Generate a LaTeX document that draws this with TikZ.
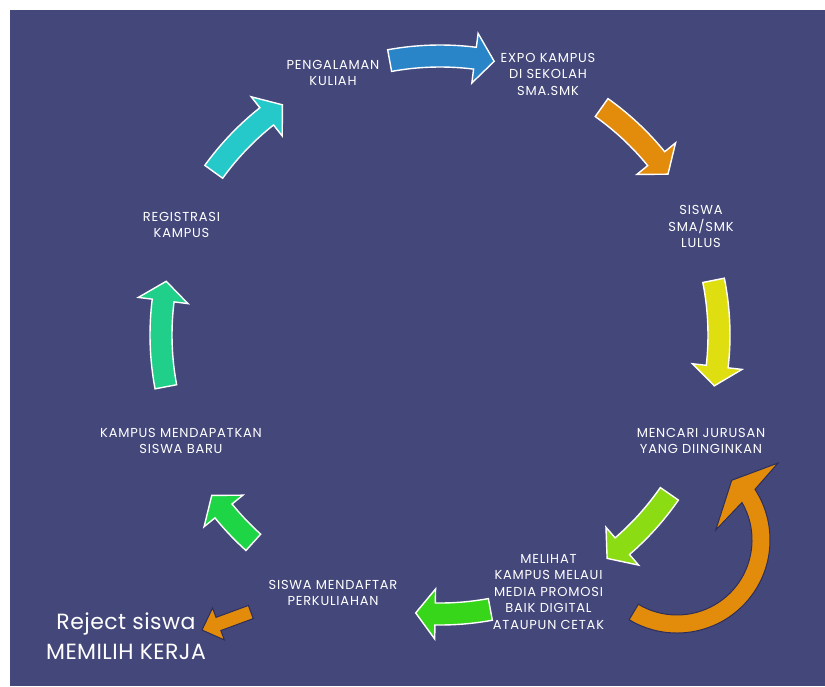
\documentclass[tikz,border=0pt]{standalone}
\usepackage{fontspec}
\setmainfont{Poppins}[LetterSpace=6]
\usepackage{tikz}
\usetikzlibrary{calc}

\definecolor{bgnavy}{HTML}{44477A}
\definecolor{rimnavy}{HTML}{2C2E5C}
\definecolor{arrcyan}{HTML}{26C9C9}
\definecolor{arrblue}{HTML}{2A84C8}
\definecolor{arrorange}{HTML}{E38C0B}
\definecolor{arryellow}{HTML}{DFDE10}
\definecolor{arrlime}{HTML}{8CDC14}
\definecolor{arrgreen}{HTML}{38D61B}
\definecolor{arrmint}{HTML}{1ED645}
\definecolor{arrteal}{HTML}{20CF8A}

% curved block arrow on the cycle circle: colour, tail angle, tip angle
\newcommand{\cycarrow}[3]{%
  \pgfmathsetmacro{\hb}{#3+4}%
  \filldraw[cyc, fill=#1] (#2:290pt) arc[start angle=#2, end angle=\hb, radius=290pt]
    -- (\hb:304pt) -- (#3:279pt) -- (\hb:254pt) -- (\hb:268pt)
    arc[start angle=\hb, end angle=#2, radius=268pt] -- cycle;}

\begin{document}
\begin{tikzpicture}[x=1pt, y=1pt,
  every node/.style={font=\fontsize{13}{16.5}\selectfont, text=white, align=center, inner sep=0pt},
  big/.style={font=\fontsize{22}{30}\selectfont\addfontfeature{LetterSpace=2}},
  cyc/.style={draw=white, line width=1.4pt},
  rej/.style={fill=arrorange, draw=rimnavy, line width=1pt}]
  \fill[white] (0,0) rectangle (825,686);
  \fill[bgnavy] (10,0) rectangle (825,676);
  \useasboundingbox (0,0) rectangle (825,686);
  \coordinate (c) at (440,351);

  \node (pengalaman) at (333,613) {PENGALAMAN\\KULIAH};
  \node (expo) at (548,612) {EXPO KAMPUS\\DI SEKOLAH\\SMA.SMK};
  \node (lulus) at (701,459.5) {SISWA\\SMA/SMK\\LULUS};
  \node (jurusan) at (701,245) {MENCARI JURUSAN\\YANG DIINGINKAN};
  \node (melihat) at (548.5,94) {MELIHAT\\KAMPUS MELAUI\\MEDIA PROMOSI\\BAIK DIGITAL\\ATAUPUN CETAK};
  \node (mendaftar) at (333,93) {SISWA MENDAFTAR\\PERKULIAHAN};
  \node (siswabaru) at (181,245) {KAMPUS MENDAPATKAN\\SISWA BARU};
  \node (registrasi) at (181.5,461) {REGISTRASI\\KAMPUS};
  \node[big] (reject) at (126,49.5) {Reject siswa\\MEMILIH KERJA};

  \begin{scope}[shift={(c)}]
    \cycarrow{arrcyan}{144.2}{124.4}
    \cycarrow{arrblue}{100.4}{78.8}
    \cycarrow{arrorange}{54.6}{35.2}
    \cycarrow{arryellow}{11.3}{-10.5}
    \cycarrow{arrlime}{-34.7}{-53.2}
    \cycarrow{arrgreen}{-79.6}{-95}
    \cycarrow{arrmint}{-132}{-144.9}
    \cycarrow{arrteal}{190.7}{168.9}
  \end{scope}

  % loop back to MENCARI JURUSAN
  \begin{scope}[shift={(677,146)}]
    \filldraw[rej] (-121:93pt) arc[start angle=-121, end angle=33, radius=93pt]
      -- (37.3:127pt) -- (47.5:81pt) -- (14.4:40pt) -- (30:75pt)
      arc[start angle=30, end angle=-121, radius=75pt] -- cycle;
  \end{scope}

  % small arrow to reject
  \begin{scope}[shift={(202,56)}, rotate=200.2]
    \filldraw[rej] (0,0) -- (-17.5,17) -- (-17.5,7) -- (-52,7) -- (-52,-7)
      -- (-17.5,-7) -- (-17.5,-17) -- cycle;
  \end{scope}
\end{tikzpicture}
\end{document}
